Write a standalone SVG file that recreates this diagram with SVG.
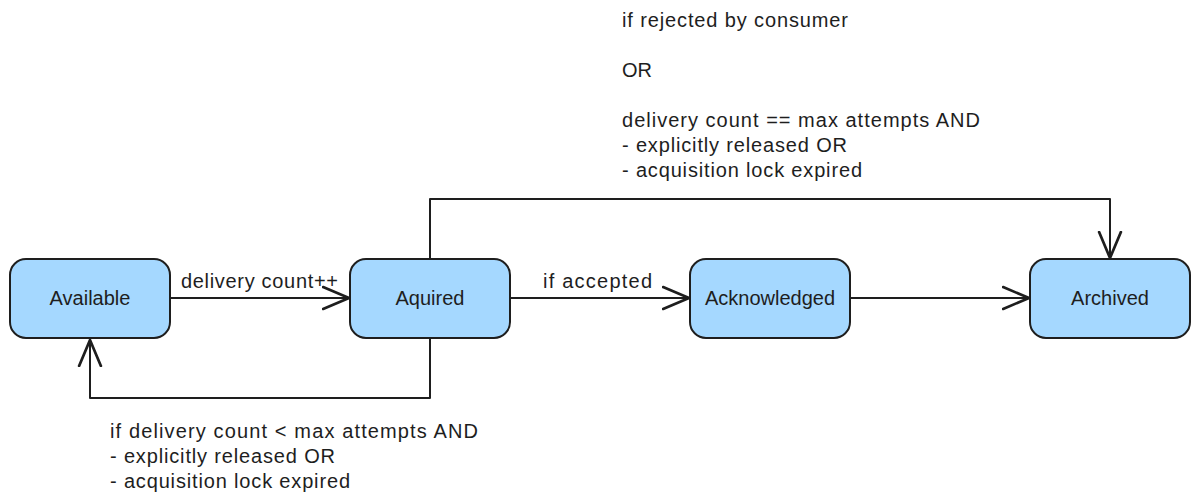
<svg xmlns="http://www.w3.org/2000/svg" width="1200" height="504" viewBox="0 0 1200 504">
  <style>
    .node { fill: #a5d8ff; stroke: #1e1e1e; stroke-width: 2; }
    .lbl { font-family: "Liberation Sans", Arial, sans-serif; font-size: 20px; fill: #1e1e1e; }
    .mid { text-anchor: middle; }
    .edge { fill: none; stroke: #1e1e1e; stroke-width: 2; stroke-linejoin: round; stroke-linecap: round; }
  </style>
  <defs>
    <marker id="arr" markerUnits="userSpaceOnUse" markerWidth="30" markerHeight="30" viewBox="-20 -10 22 20" refX="0" refY="0" orient="auto">
      <path d="M -19 -8 L 0 0 L -19 8" fill="none" stroke="#1e1e1e" stroke-width="2" stroke-linecap="round" stroke-linejoin="round"/>
    </marker>
  </defs>
  <rect width="1200" height="504" fill="#ffffff"/>

  <g id="connectors">
    <path class="edge" d="M 171 298 L 349 298" marker-end="url(#arr)"/>
    <path class="edge" d="M 511 298 L 689 298" marker-end="url(#arr)"/>
    <path class="edge" d="M 851 298 L 1029 298" marker-end="url(#arr)"/>
    <path class="edge" d="M 430 258 L 430 199 L 1110 199 L 1110 258" marker-end="url(#arr)"/>
    <path class="edge" d="M 430 339 L 430 398 L 90 398 L 90 340" marker-end="url(#arr)"/>
    <text class="lbl" x="181" y="288" textLength="157" lengthAdjust="spacing">delivery count++</text>
    <text class="lbl" x="543" y="288" textLength="109" lengthAdjust="spacing">if accepted</text>
    <g id="label-top">
      <text class="lbl" x="622" y="27" textLength="226" lengthAdjust="spacing">if rejected by consumer</text>
      <text class="lbl" x="622" y="77" textLength="30" lengthAdjust="spacing">OR</text>
      <text class="lbl" x="622" y="127" textLength="358" lengthAdjust="spacing">delivery count == max attempts AND</text>
      <text class="lbl" x="622" y="152" textLength="225" lengthAdjust="spacing">- explicitly released OR</text>
      <text class="lbl" x="622" y="177" textLength="240" lengthAdjust="spacing">- acquisition lock expired</text>
    </g>
    <g id="label-bottom">
      <text class="lbl" x="110" y="438" textLength="368" lengthAdjust="spacing">if delivery count &lt; max attempts AND</text>
      <text class="lbl" x="110" y="463" textLength="225" lengthAdjust="spacing">- explicitly released OR</text>
      <text class="lbl" x="110" y="488" textLength="240" lengthAdjust="spacing">- acquisition lock expired</text>
    </g>
  </g>

  <g id="available">
    <rect class="node" x="10" y="259" width="160" height="79" rx="16"/>
    <text class="lbl mid" x="90" y="305">Available</text>
  </g>
  <g id="aquired">
    <rect class="node" x="350" y="259" width="160" height="79" rx="16"/>
    <text class="lbl mid" x="430" y="305">Aquired</text>
  </g>
  <g id="acknowledged">
    <rect class="node" x="690" y="259" width="160" height="79" rx="16"/>
    <text class="lbl mid" x="770" y="305">Acknowledged</text>
  </g>
  <g id="archived">
    <rect class="node" x="1030" y="259" width="160" height="79" rx="16"/>
    <text class="lbl mid" x="1110" y="305">Archived</text>
  </g>
</svg>
